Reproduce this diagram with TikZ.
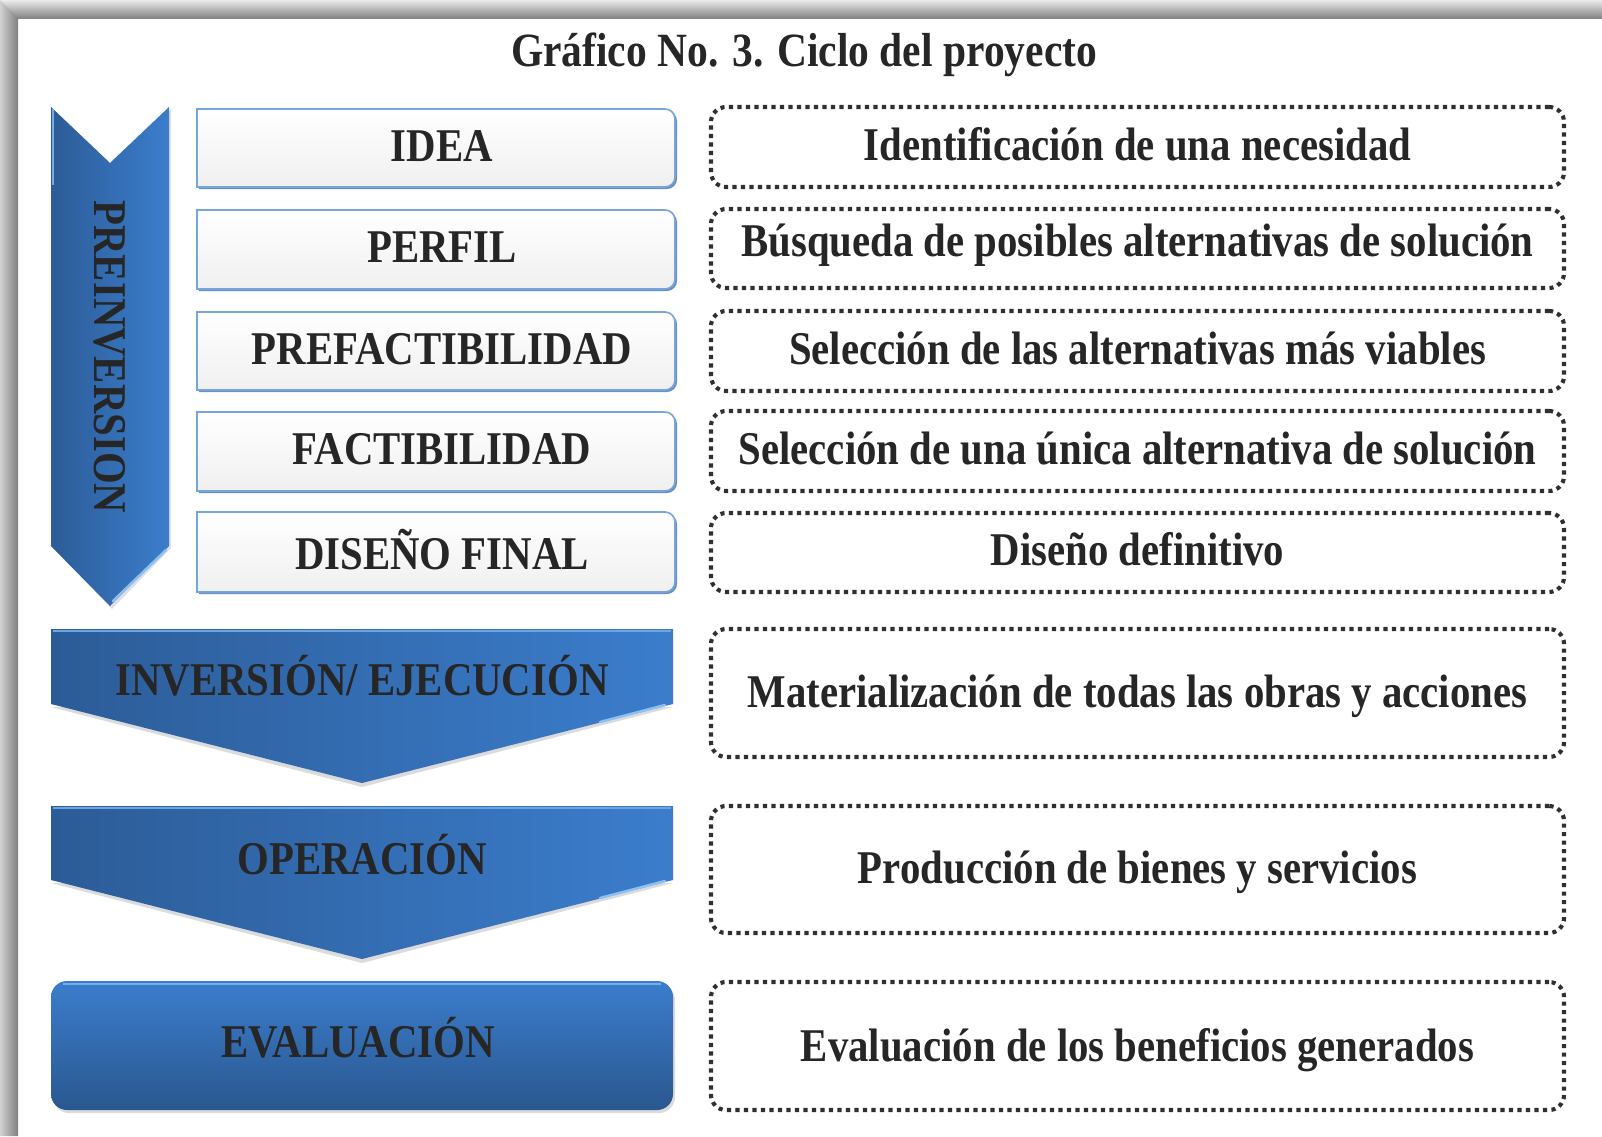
\documentclass[tikz,border=0pt]{standalone}
\usepackage{fontspec}
\setmainfont{Liberation Serif}
\usepackage{graphicx}
\usetikzlibrary{backgrounds}
\definecolor{txt}{HTML}{262626}
\definecolor{blueL}{HTML}{2C5C97}
\definecolor{blueR}{HTML}{3B7DCC}
\definecolor{boxline}{HTML}{76A5DC}
\definecolor{boxshadow}{HTML}{4F7DB6}
\definecolor{dotc}{HTML}{303030}
\definecolor{hilite}{HTML}{8CC0F2}
\newcommand\vs[1]{\scalebox{1}[1.15]{#1}}
\newcommand\lbox[4]{%
  \node[lefttext] (#1) at (442,{-(#2+#3)/2+2}) {\vs{#4}};
  \begin{scope}[on background layer]
    \fill[boxshadow,opacity=.85] (199,{-#2-2}) -- (667,{-#2-2}) arc(90:0:10) -- (677,{-#3+8}) arc(0:-90:10) -- (199,{-#3-2}) -- cycle;
    \shade[top color=white,bottom color=black!6] (197,-#2) -- (665,-#2) arc(90:0:10) -- (675,{-#3+10}) arc(0:-90:10) -- (197,-#3) -- cycle;
    \draw[boxline,line width=1.6pt] (197,-#2) -- (665,-#2) arc(90:0:10) -- (675,{-#3+10}) arc(0:-90:10) -- (197,-#3) -- cycle;
  \end{scope}}
% name, top, bottom, text shift, text
\newcommand\rbox[5]{%
  \node[dotbox,minimum height={#3-#2}] (#1) at (1137.5,{-(#2+#3)/2}) {};
  \node[text=txt,inner sep=0pt] (#1t) at ([yshift=#4]#1.center) {\vs{#5}};}
\begin{document}
\begin{tikzpicture}[x=1pt,y=1pt,
  font=\fontsize{40.8}{44}\selectfont\bfseries,
  lefttext/.style={text=txt,inner sep=0pt},
  dotbox/.style={draw=dotc,line width=4.1pt,dash pattern=on 4.1pt off 4.4pt,
     rounded corners=15pt,minimum width=853pt,inner sep=0pt},
  bluetext/.style={text=txt,inner sep=0pt}]
\useasboundingbox (0,0) rectangle (1602,-1136);
\begin{scope}[on background layer]
  \fill[white] (0,0) rectangle (1602,-1136);
  \shade[top color=black!8,bottom color=black!48] (0,0) rectangle (1602,-18);
  \shade[left color=black!18,right color=black!50] (0,0) -- (18,-18) -- (18,-1136) -- (0,-1136) -- cycle;
\end{scope}

% title
\node[text=txt,inner sep=0pt] (title) at (804,-55) {\fontsize{41.5}{45}\selectfont\vs{Gráfico No. 3. Ciclo del proyecto}};

% PREINVERSION chevron
\fill[black!35,opacity=.35] (53,-109) -- (112,-165) -- (171,-109) -- (171,-548) -- (112,-609) -- (53,-548) -- cycle;
\shade[left color=blueL,right color=blueR] (51,-107) -- (110,-163) -- (169,-107) -- (169,-546) -- (110,-606) -- (51,-546) -- cycle;
\draw[hilite,line width=2.5pt,line cap=round] (166,-550) -- (113,-601);
\draw[hilite!70!blueR,line width=2pt] (53,-109) -- (53,-185);
\node[bluetext,rotate=-90] (pre) at (110,-357) {\vs{PREINVERSION}};

% left boxes
\lbox{idea}{109}{187}{IDEA}
\lbox{perfil}{210}{289}{PERFIL}
\lbox{pref}{312}{390}{PREFACTIBILIDAD}
\lbox{fact}{412}{491}{FACTIBILIDAD}
\lbox{dis}{512}{592}{DISEÑO FINAL}

% INVERSION chevron
\fill[black!40,opacity=.35] (51,-707) -- (673,-707) -- (362,-787) -- cycle;
\shade[left color=blueL,right color=blueR] (51,-629) -- (673,-629) -- (673,-704) -- (362,-783) -- (51,-704) -- cycle;
\draw[hilite,line width=2.5pt,line cap=round] (665,-705) -- (600,-722);
\draw[hilite!60!blueR,line width=1.5pt] (53,-631) -- (671,-631);
\node[bluetext] (inv) at (362,-676) {\vs{INVERSIÓN/ EJECUCIÓN}};

% OPERACION chevron
\fill[black!40,opacity=.35] (51,-883) -- (673,-883) -- (362,-963) -- cycle;
\shade[left color=blueL,right color=blueR] (51,-806) -- (673,-806) -- (673,-880) -- (362,-959) -- (51,-880) -- cycle;
\draw[hilite,line width=2.5pt,line cap=round] (665,-881) -- (600,-898);
\draw[hilite!60!blueR,line width=1.5pt] (53,-808) -- (671,-808);
\node[bluetext] (ope) at (362,-855) {\vs{OPERACIÓN}};

% EVALUACION box
\fill[black!40,opacity=.35,rounded corners=16pt] (53,-984) rectangle (675,-1113);
\shade[top color=blueR,bottom color=blueL!95!black,rounded corners=16pt] (51,-981) rectangle (673,-1110);
\draw[hilite!70!blueR,line width=2pt] (63,-984) -- (661,-984);
\node[bluetext] (eva) at (358,-1038) {\vs{EVALUACIÓN}};

% right dotted boxes
\rbox{d1}{107}{187}{3pt}{Identificación de una necesidad}
\rbox{d2}{209}{288}{3pt}{Búsqueda de posibles alternativas de solución}
\rbox{d3}{311}{391}{3pt}{Selección de las alternativas más viables}
\rbox{d4}{411}{491}{3pt}{Selección de una única alternativa de solución}
\rbox{d5}{513}{592}{3pt}{Diseño definitivo}
\rbox{d6}{629}{757}{-3pt}{Materialización de todas las obras y acciones}
\rbox{d7}{806}{933}{-3pt}{Producción de bienes y servicios}
\rbox{d8}{982}{1110}{-4pt}{Evaluación de los beneficios generados}
\end{tikzpicture}
\end{document}
